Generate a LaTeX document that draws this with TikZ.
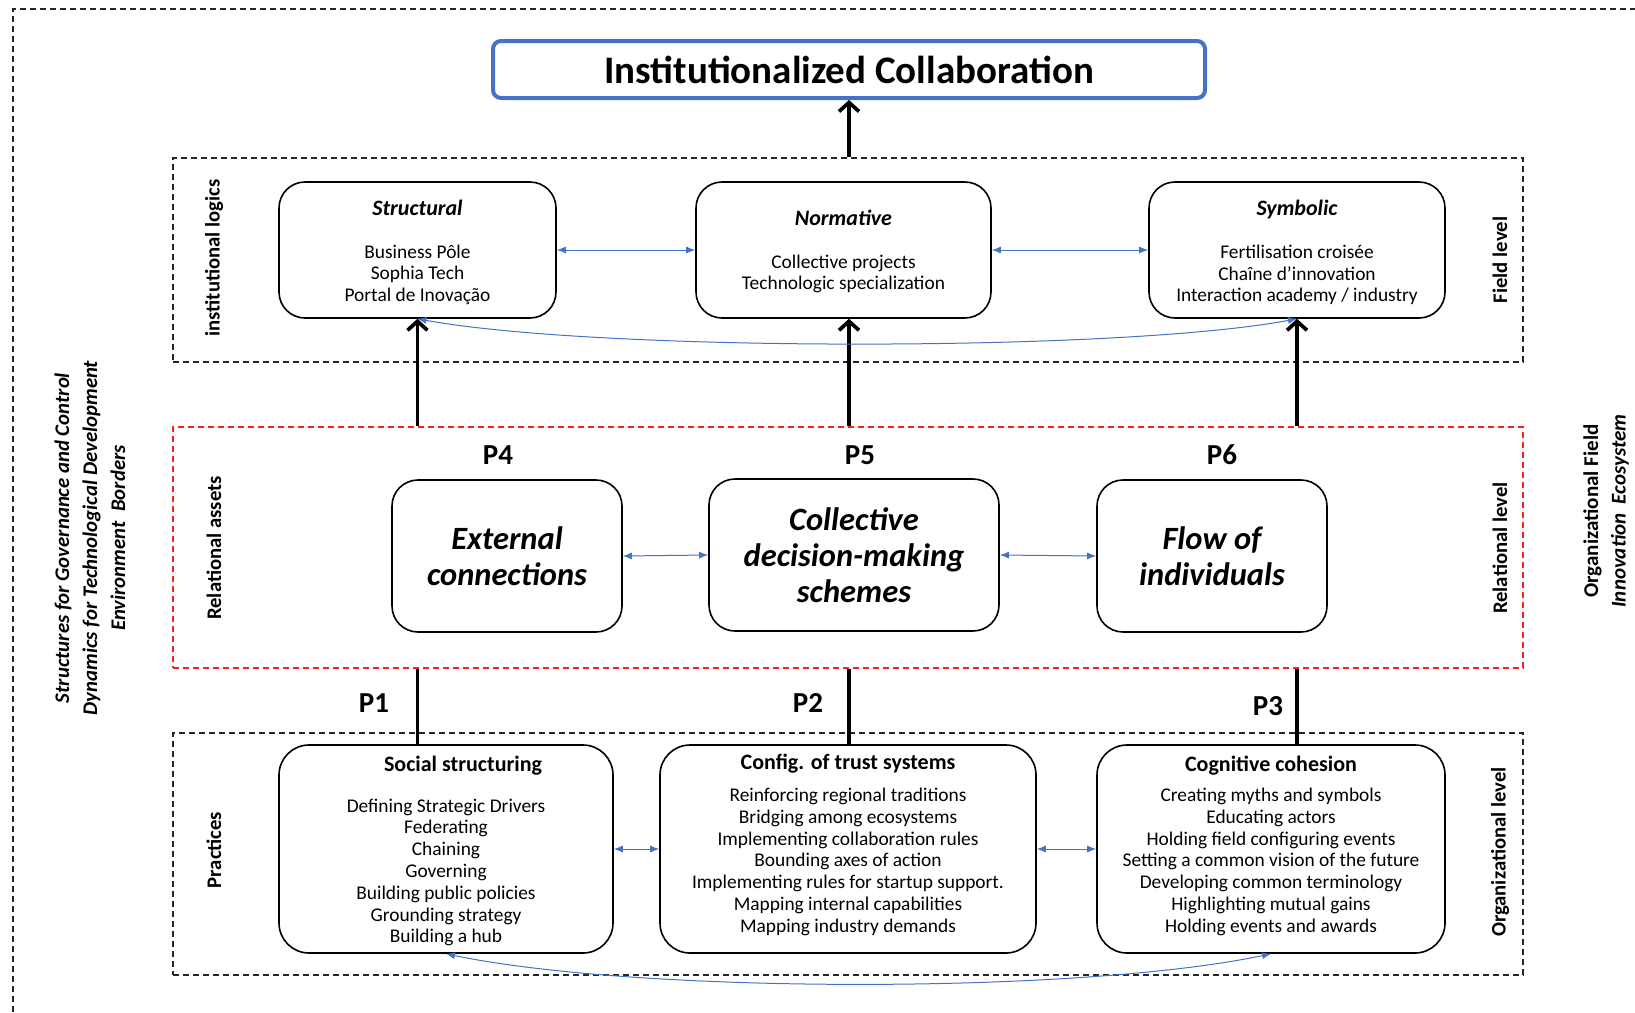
\documentclass[tikz,border=0pt]{standalone}
\usepackage{fontspec}
\setmainfont{Carlito}
\usetikzlibrary{arrows.meta}
\definecolor{obl}{RGB}{68,114,196}
\definecolor{ored}{RGB}{255,30,30}
\begin{document}
\begin{tikzpicture}[x=1pt,y=-1pt,
  dbox/.style={draw=black!85, dash pattern=on 6pt off 4pt, line width=1.4pt, inner sep=0pt},
  rbox/.style={draw, rounded corners=26pt, line width=1.6pt, align=center, inner sep=0pt},
  body/.style={font=\fontsize{19.4}{21.8}\selectfont, align=center, inner sep=0pt},
  big/.style={font=\fontsize{32.5}{36}\selectfont\bfseries\itshape},
  plab/.style={font=\fontsize{29}{32}\selectfont\bfseries},
  side/.style={rotate=90, font=\fontsize{20.7}{24}\selectfont\bfseries},
  thickarrow/.style={line width=3.7pt, -{Straight Barb[length=9pt,width=20pt]}},
  thickline/.style={line width=3.7pt},
  bluearrow/.style={draw=obl, line width=1pt, {Latex[length=9pt,width=7pt]}-{Latex[length=9pt,width=7pt]}},
]
\useasboundingbox (0,0) rectangle (1635,1012);

% outer frame
\draw[dbox] (13,1012) -- (13,9) -- (1635,9);

% title
\node[draw=obl, line width=4pt, rounded corners=8pt, minimum width=712pt, minimum height=57pt,
      font=\fontsize{39}{44}\selectfont\bfseries] (title) at (849,69.5) {Institutionalized Collaboration};

% level frames
\node[dbox, minimum width=1350pt, minimum height=204pt] (field) at (848,260) {};
\node[dbox, draw=ored, minimum width=1350pt, minimum height=241pt] (rel) at (848,547.5) {};
\node[dbox, minimum width=1350pt, minimum height=242pt] (prac) at (848,854) {};

% field level boxes
\node[rbox, minimum width=277pt, minimum height=136pt] (struct) at (417.5,250) {};
\node[rbox, minimum width=295pt, minimum height=136pt] (norm) at (843.5,250) {};
\node[rbox, minimum width=296pt, minimum height=136pt] (symb) at (1297,250) {};
\node[body] (structtxt) at ([yshift=-2.5pt]struct.center)
  {{\fontsize{22}{21.8}\selectfont\bfseries\itshape Structural}\\[21pt]Business Pôle\\Sophia Tech\\Portal de Inovação};
\node[body] (normtxt) at ([yshift=-1.5pt]norm.center)
  {{\fontsize{22}{21.8}\selectfont\bfseries\itshape Normative}\\[21pt]Collective projects\\Technologic specialization};
\node[body] (symbtxt) at ([yshift=-2.5pt]symb.center)
  {{\fontsize{22}{21.8}\selectfont\bfseries\itshape Symbolic}\\[21pt]Fertilisation croisée\\Chaîne d’innovation\\Interaction academy / industry};

% relational boxes
\node[rbox, big, minimum width=230pt, minimum height=152pt] (ext) at (507,556) {External\\connections};
\node[rbox, big, minimum width=290pt, minimum height=152pt] (coll) at (854,555) {Collective\\decision-making\\schemes};
\node[rbox, big, minimum width=230pt, minimum height=152pt] (flow) at (1212,556) {Flow of\\individuals};

% practice boxes
\node[rbox, rounded corners=30pt, minimum width=334pt, minimum height=208pt] (social) at (446,849) {};
\node[rbox, rounded corners=30pt, minimum width=376pt, minimum height=208pt] (config) at (848,849) {};
\node[rbox, rounded corners=30pt, minimum width=348pt, minimum height=208pt] (cog) at (1271,849) {};
\node[body] (socialtxt) at ([yshift=-2pt]social.center)
  {\hspace*{34pt}{\fontsize{22}{21.8}\selectfont\bfseries Social structuring}\\[19pt]Defining Strategic Drivers\\Federating\\Chaining\\Governing\\Building public policies\\Grounding strategy\\Building a hub};
\node[body] (configtxt) at ([yshift=4pt]config.center)
  {{\fontsize{22}{21.8}\selectfont\bfseries Config. of trust systems}\\[10pt]Reinforcing regional traditions\\Bridging among ecosystems\\Implementing collaboration rules\\Bounding axes of action\\Implementing rules for startup support.\\Mapping internal capabilities\\Mapping industry demands};
\node[body] (cogtxt) at ([yshift=3pt]cog.center)
  {{\fontsize{22}{21.8}\selectfont\bfseries Cognitive cohesion}\\[8pt]Creating myths and symbols\\Educating actors\\Holding field configuring events\\Setting a common vision of the future\\Developing common terminology\\Highlighting mutual gains\\Holding events and awards};

% P labels
\node[plab] (p4) at (498,455) {P4};
\node[plab] (p5) at (860,455) {P5};
\node[plab] (p6) at (1222,455) {P6};
\node[plab] (p1) at (374,703) {P1};
\node[plab] (p2) at (808,703) {P2};
\node[plab] (p3) at (1268,706) {P3};

% side labels
\node[side] (lil) at (214,258) {institutional logics};
\node[side] (lfl) at (1500,260) {Field level};
\node[side] (lra) at (214,548) {Relational assets};
\node[side] (lrl) at (1500,548) {Relational level};
\node[side] (lpr) at (214,850) {Practices};
\node[side] (lol) at (1500,852) {Organizational level};

\node[rotate=90, align=center, font=\fontsize{20.8}{28}\selectfont\bfseries\itshape] (left) at (90,538)
  {Structures for Governance and Control\\Dynamics for Technological Development\\Environment\ \ Borders};
\node[rotate=90, align=center, font=\fontsize{21}{27.5}\selectfont\bfseries] (right) at (1606,511)
  {Organizational Field\\\textit{Innovation\ \ Ecosystem}};

% thick arrows
\draw[thickarrow] (title.south |- field.north) -- (title.south);
\draw[thickarrow] (struct.south |- rel.north) -- (struct.south);
\draw[thickarrow] (title.south |- rel.north) -- (title.south |- norm.south);
\draw[thickarrow] (symb.south |- rel.north) -- (symb.south);
\draw[thickline] (struct.south |- rel.south) -- (struct.south |- social.north);
\draw[thickline] (title.south |- rel.south) -- (title.south |- config.north);
\draw[thickline] (symb.south |- rel.south) -- (symb.south |- cog.north);

% blue arrows
\draw[bluearrow] (struct) -- (norm);
\draw[bluearrow] (norm) -- (symb);
\draw[bluearrow] (ext.east) -- (coll.west);
\draw[bluearrow] (coll.east) -- (flow.west);
\draw[bluearrow] (social.east) -- (config.west);
\draw[bluearrow] (config.east) -- (cog.west);
\draw[bluearrow] (struct.south) .. controls (600,352) and (1120,352) .. (symb.south);
\draw[bluearrow] (social.south) .. controls (640,994) and (1080,994) .. (cog.south);
\end{tikzpicture}
\end{document}
